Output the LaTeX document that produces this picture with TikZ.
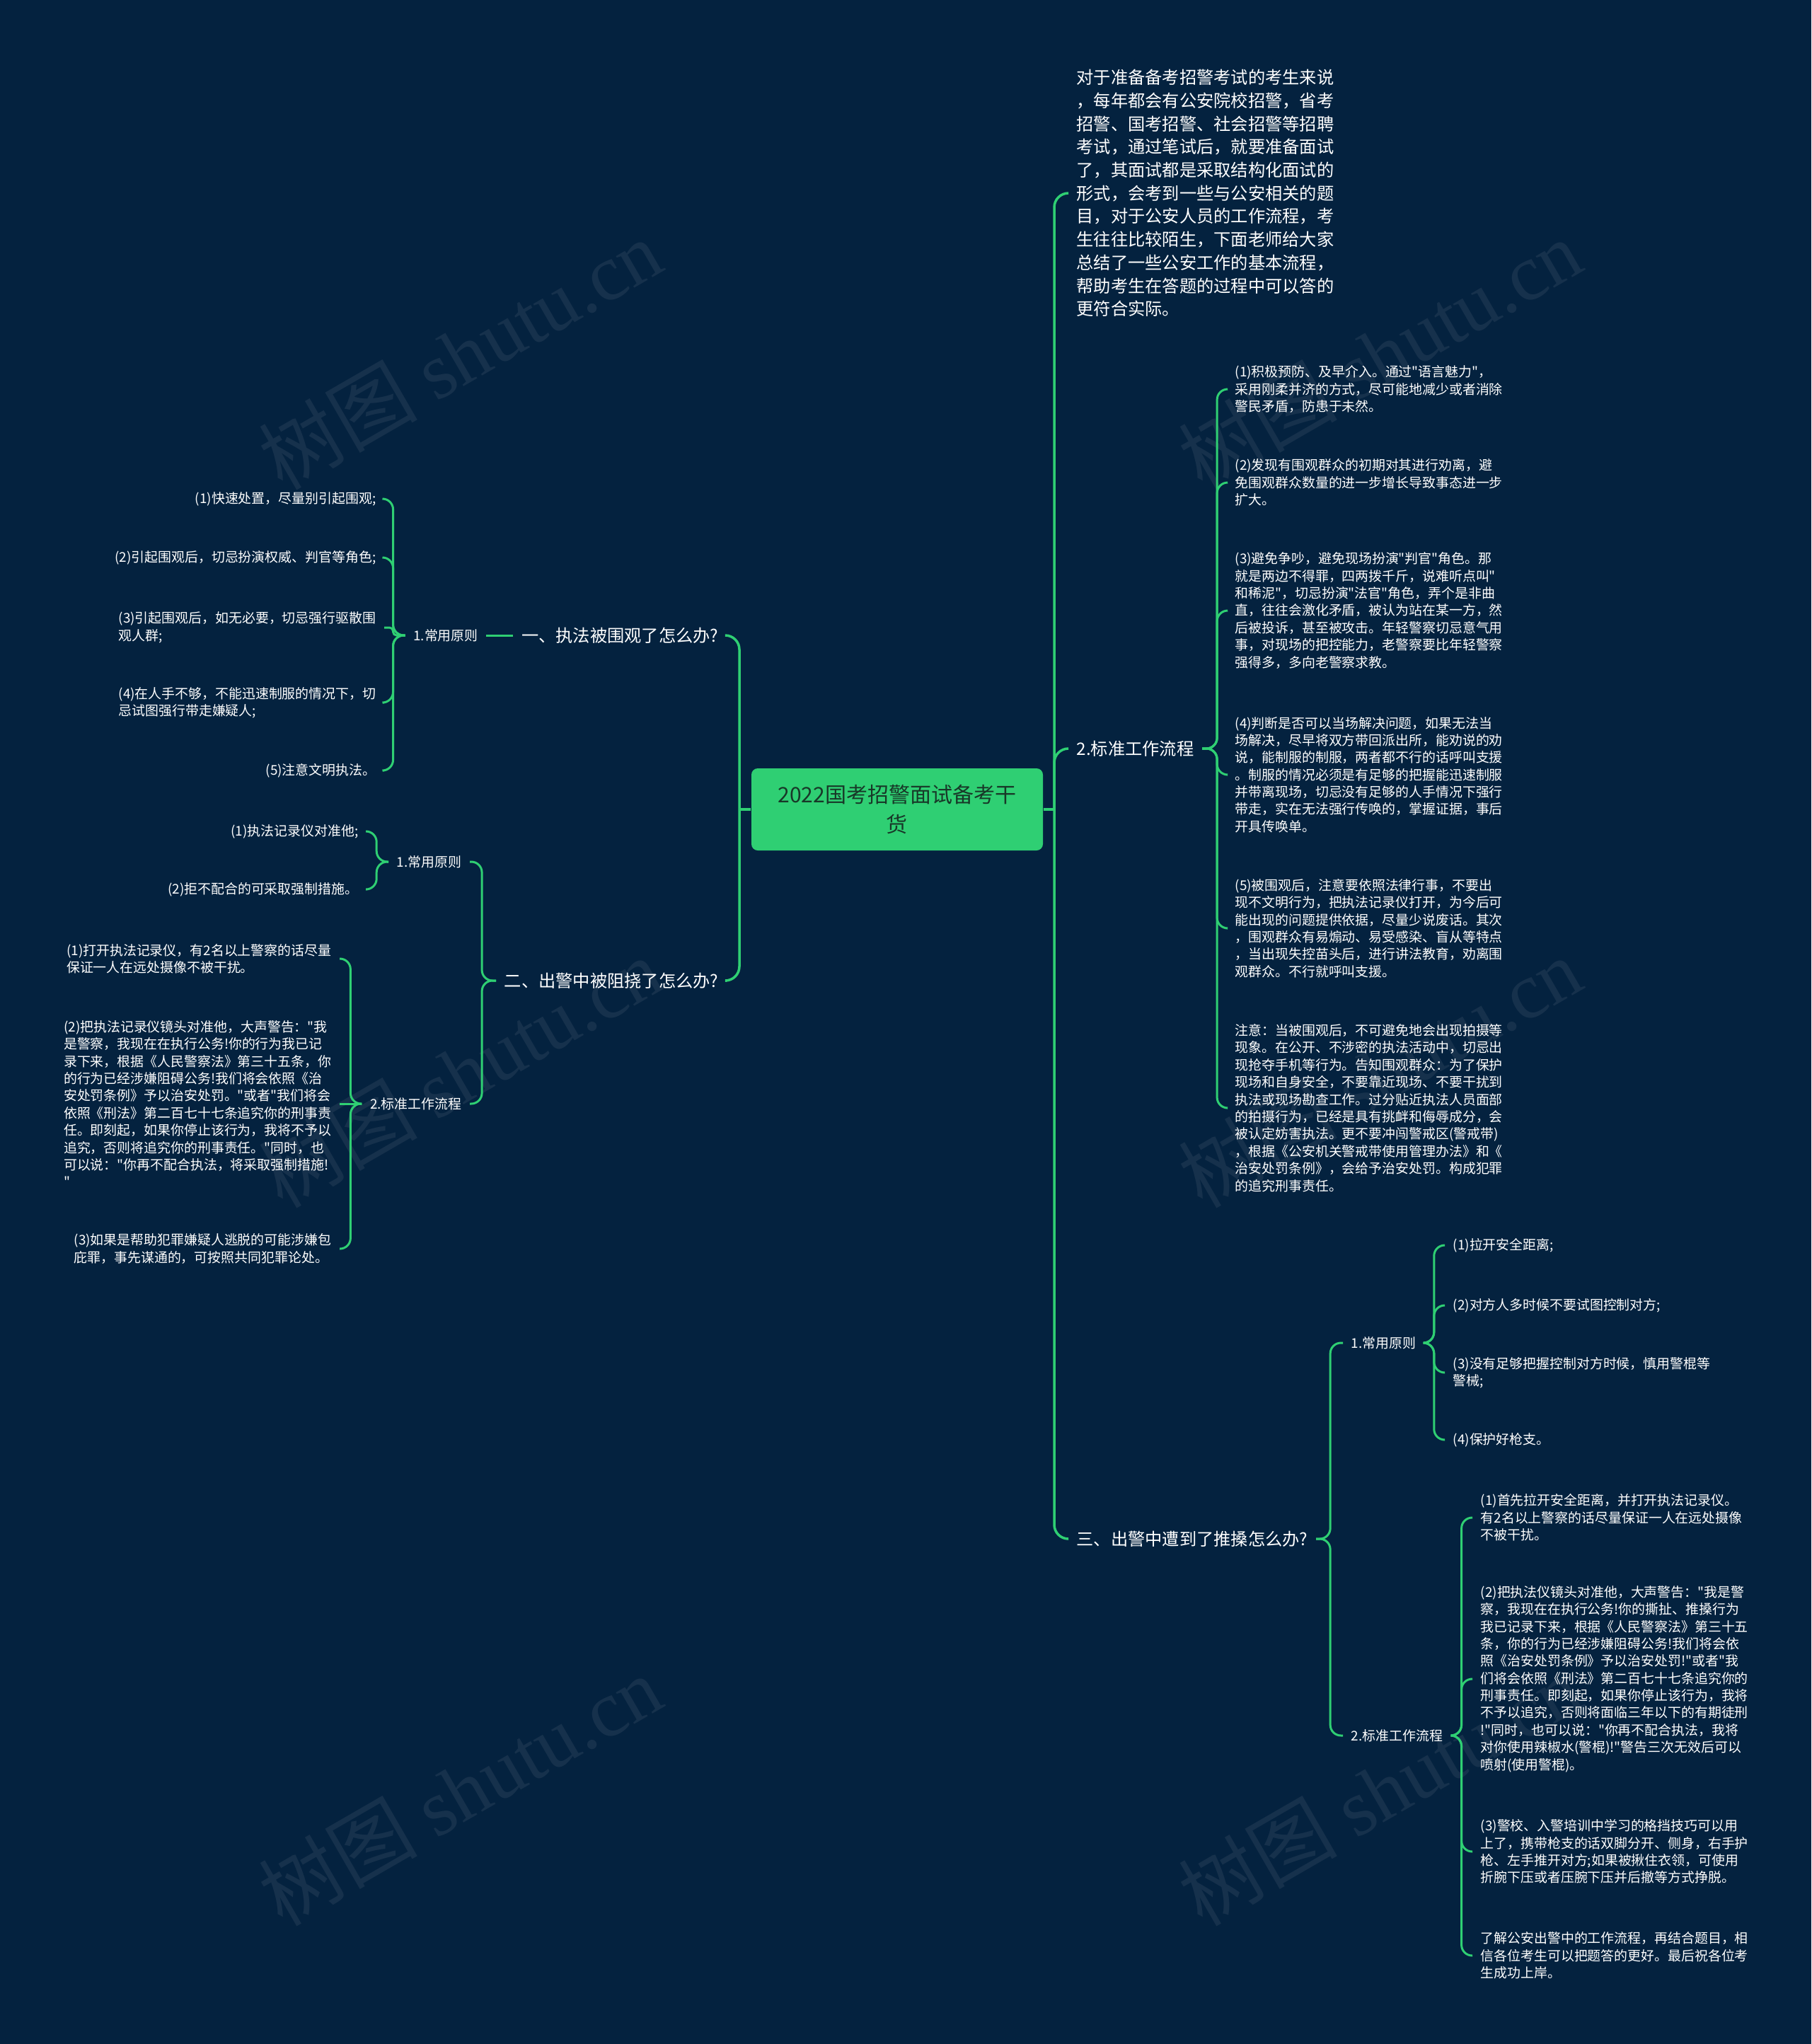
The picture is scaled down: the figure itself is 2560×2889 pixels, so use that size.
\documentclass[tikz,border=0pt]{standalone}
\usepackage{fontspec}
\setmainfont{Noto Sans CJK SC}[Ligatures=TeXOff]
\newfontfamily\wmlatin{Liberation Serif}
\usetikzlibrary{positioning}
\definecolor{mapbg}{HTML}{04223F}
\definecolor{mapgreen}{HTML}{2FCF73}
\definecolor{rootink}{HTML}{183828}
\colorlet{wmink}{mapbg!93!white}

\begin{document}
\begin{tikzpicture}[x=0.1mm, y=-0.1mm, node distance=4mm,
	root/.style={fill=mapgreen, text=rootink, rounded corners=0.9mm, minimum width=41.2mm, minimum height=11.6mm, align=center, inner sep=0pt, font=\fontsize{8.55pt}{11.95pt}\selectfont},
	topic/.style={text=white, align=left, inner xsep=1.1mm, inner ysep=0pt, font=\fontsize{6.9pt}{9.3pt}\selectfont},
	leaf/.style={text=white, align=left, inner xsep=1.1mm, inner ysep=0pt, font=\fontsize{5.38pt}{6.94pt}\selectfont},
	trunk/.style={draw=mapgreen, line width=1pt, rounded corners=2mm},
	twig/.style={draw=mapgreen, line width=0.85pt, rounded corners=1.5mm},
	stamp/.style={text=wmink, rotate=30, font=\fontsize{32pt}{32pt}\selectfont}]
	\fill[mapbg] (0,0) rectangle (2560,2889);
	\foreach \wx/\wy [count=\i] in {650/500,1950/500,650/1515,1950/1515,650/2530,1950/2530}
		\node[stamp] (wm\i) at (\wx,\wy) {树图 {\wmlatin shutu.cn}};

	\node[root] (root) at (1268,1144) {2022国考招警面试备考干\\货};
	\coordinate (rj) at (1490,1144);
	\coordinate (lj) at (1045,1144);

	\node[topic, anchor=west] (intro) at (1510,273) {对于准备备考招警考试的考生来说\\，每年都会有公安院校招警，省考\\招警、国考招警、社会招警等招聘\\考试，通过笔试后，就要准备面试\\了，其面试都是采取结构化面试的\\形式，会考到一些与公安相关的题\\目，对于公安人员的工作流程，考\\生往往比较陌生，下面老师给大家\\总结了一些公安工作的基本流程，\\帮助考生在答题的过程中可以答的\\更符合实际。};
	\node[topic, anchor=west] (flow) at (1510,1058) {2.标准工作流程};
	\node[topic, anchor=west] (q3) at (1510,2175) {三、出警中遭到了推搡怎么办?};
	\draw[trunk] (root.east) -- (rj);
	\foreach \n in {intro,flow,q3}
		\draw[trunk] (rj) |- (\n.west);

	\node[leaf, anchor=west] (flow1) at (1734,550) {(1)积极预防、及早介入。通过"语言魅力"，\\采用刚柔并济的方式，尽可能地减少或者消除\\警民矛盾，防患于未然。};
	\node[leaf, anchor=west] (flow2) at (1734,682) {(2)发现有围观群众的初期对其进行劝离，避\\免围观群众数量的进一步增长导致事态进一步\\扩大。};
	\node[leaf, anchor=west] (flow3) at (1734,863) {(3)避免争吵，避免现场扮演"判官"角色。那\\就是两边不得罪，四两拨千斤，说难听点叫"\\和稀泥"，切忌扮演"法官"角色，弄个是非曲\\直，往往会激化矛盾，被认为站在某一方，然\\后被投诉，甚至被攻击。年轻警察切忌意气用\\事，对现场的把控能力，老警察要比年轻警察\\强得多，多向老警察求教。};
	\node[leaf, anchor=west] (flow4) at (1734,1095) {(4)判断是否可以当场解决问题，如果无法当\\场解决，尽早将双方带回派出所，能劝说的劝\\说，能制服的制服，两者都不行的话呼叫支援\\。制服的情况必须是有足够的把握能迅速制服\\并带离现场，切忌没有足够的人手情况下强行\\带走，实在无法强行传唤的，掌握证据，事后\\开具传唤单。};
	\node[leaf, anchor=west] (flow5) at (1734,1312) {(5)被围观后，注意要依照法律行事，不要出\\现不文明行为，把执法记录仪打开，为今后可\\能出现的问题提供依据，尽量少说废话。其次\\，围观群众有易煽动、易受感染、盲从等特点\\，当出现失控苗头后，进行讲法教育，劝离围\\观群众。不行就呼叫支援。};
	\node[leaf, anchor=west] (flow6) at (1734,1566) {注意：当被围观后，不可避免地会出现拍摄等\\现象。在公开、不涉密的执法活动中，切忌出\\现抢夺手机等行为。告知围观群众：为了保护\\现场和自身安全，不要靠近现场、不要干扰到\\执法或现场勘查工作。过分贴近执法人员面部\\的拍摄行为，已经是具有挑衅和侮辱成分，会\\被认定妨害执法。更不要冲闯警戒区(警戒带)\\，根据《公安机关警戒带使用管理办法》和《\\治安处罚条例》，会给予治安处罚。构成犯罪\\的追究刑事责任。};
	\foreach \i in {1,...,6}
		\draw[twig] (flow.east) --++(0:2.1mm) |- (flow\i.west);

	\node[leaf, anchor=west] (q3r) at (1898,1898) {1.常用原则};
	\node[leaf, anchor=west] (q3f) at (1898,2453) {2.标准工作流程};
	\foreach \n in {q3r,q3f}
		\draw[twig] (q3.east) --++(0:2mm) |- (\n.west);

	\node[leaf, anchor=west] (q3r1) at (2042,1760) {(1)拉开安全距离;};
	\node[leaf, anchor=west] (q3r2) at (2042,1845) {(2)对方人多时候不要试图控制对方;};
	\node[leaf, anchor=west] (q3r3) at (2042,1940) {(3)没有足够把握控制对方时候，慎用警棍等\\警械;};
	\node[leaf, anchor=west] (q3r4) at (2042,2035) {(4)保护好枪支。};
	\foreach \i in {1,...,4}
		\draw[twig] (q3r.east) --++(0:1.4mm) |- (q3r\i.west);

	\node[leaf, anchor=west] (q3f1) at (2081,2145) {(1)首先拉开安全距离，并打开执法记录仪。\\有2名以上警察的话尽量保证一人在远处摄像\\不被干扰。};
	\node[leaf, anchor=west] (q3f2) at (2081,2373) {(2)把执法仪镜头对准他，大声警告："我是警\\察，我现在在执行公务!你的撕扯、推搡行为\\我已记录下来，根据《人民警察法》第三十五\\条，你的行为已经涉嫌阻碍公务!我们将会依\\照《治安处罚条例》予以治安处罚!"或者"我\\们将会依照《刑法》第二百七十七条追究你的\\刑事责任。即刻起，如果你停止该行为，我将\\不予以追究，否则将面临三年以下的有期徒刑\\!"同时，也可以说："你再不配合执法，我将\\对你使用辣椒水(警棍)!"警告三次无效后可以\\喷射(使用警棍)。};
	\node[leaf, anchor=west] (q3f3) at (2081,2617) {(3)警校、入警培训中学习的格挡技巧可以用\\上了，携带枪支的话双脚分开、侧身，右手护\\枪、左手推开对方;如果被揪住衣领，可使用\\折腕下压或者压腕下压并后撤等方式挣脱。};
	\node[leaf, anchor=west] (q3f4) at (2081,2764) {了解公安出警中的工作流程，再结合题目，相\\信各位考生可以把题答的更好。最后祝各位考\\生成功上岸。};
	\foreach \i in {1,...,4}
		\draw[twig] (q3f.east) --++(0:1.5mm) |- (q3f\i.west);

	\node[topic, anchor=east] (q1) at (1027,898) {一、执法被围观了怎么办?};
	\node[topic, anchor=east] (q2) at (1027,1386) {二、出警中被阻挠了怎么办?};
	\draw[trunk] (root.west) -- (lj);
	\foreach \n in {q1,q2}
		\draw[trunk] (lj) |- (\n.east);

	\node[leaf, left=3.8mm of q1] (q1r) {1.常用原则};
	\draw[twig] (q1.west) -- (q1r.east);
	\node[leaf, anchor=east] (q1r1) at (543,705) {(1)快速处置，尽量别引起围观;};
	\node[leaf, anchor=east] (q1r2) at (543,788) {(2)引起围观后，切忌扮演权威、判官等角色;};
	\node[leaf, anchor=east] (q1r3) at (543,887) {(3)引起围观后，如无必要，切忌强行驱散围\\观人群;};
	\node[leaf, anchor=east] (q1r4) at (543,993) {(4)在人手不够，不能迅速制服的情况下，切\\忌试图强行带走嫌疑人;};
	\node[leaf, anchor=east] (q1r5) at (543,1089) {(5)注意文明执法。};
	\foreach \i in {1,2,4,5}
		\draw[twig] (q1r.west) --++(180:1.7mm) |- (q1r\i.east);
	\draw[twig, rounded corners=0.5mm] (q1r.west) --++(180:1.7mm) |- (q1r3.east);

	\node[leaf, anchor=east] (q2r) at (664,1218) {1.常用原则};
	\node[leaf, anchor=east] (q2f) at (664,1560) {2.标准工作流程};
	\foreach \n in {q2r,q2f}
		\draw[twig] (q2.west) --++(180:2mm) |- (\n.east);

	\node[leaf, anchor=east] (q2r1) at (518,1175) {(1)执法记录仪对准他;};
	\node[leaf, anchor=east] (q2r2) at (518,1257) {(2)拒不配合的可采取强制措施。};
	\foreach \i in {1,2}
		\draw[twig] (q2r.west) --++(180:1.7mm) |- (q2r\i.east);

	\node[leaf, anchor=east] (q2f1) at (480,1355) {(1)打开执法记录仪，有2名以上警察的话尽量\\保证一人在远处摄像不被干扰。};
	\node[leaf, anchor=east] (q2f2) at (480,1560) {(2)把执法记录仪镜头对准他，大声警告："我\\是警察，我现在在执行公务!你的行为我已记\\录下来，根据《人民警察法》第三十五条，你\\的行为已经涉嫌阻碍公务!我们将会依照《治\\安处罚条例》予以治安处罚。"或者"我们将会\\依照《刑法》第二百七十七条追究你的刑事责\\任。即刻起，如果你停止该行为，我将不予以\\追究，否则将追究你的刑事责任。"同时，也\\可以说："你再不配合执法，将采取强制措施!\\"};
	\node[leaf, anchor=east] (q2f3) at (480,1765) {(3)如果是帮助犯罪嫌疑人逃脱的可能涉嫌包\\庇罪，事先谋通的，可按照共同犯罪论处。};
	\draw[twig] (q2f.west) -- (q2f2.east);
	\foreach \i in {1,3}
		\draw[twig] (q2f.west) --++(180:1.6mm) |- (q2f\i.east);
\end{tikzpicture}
\end{document}
